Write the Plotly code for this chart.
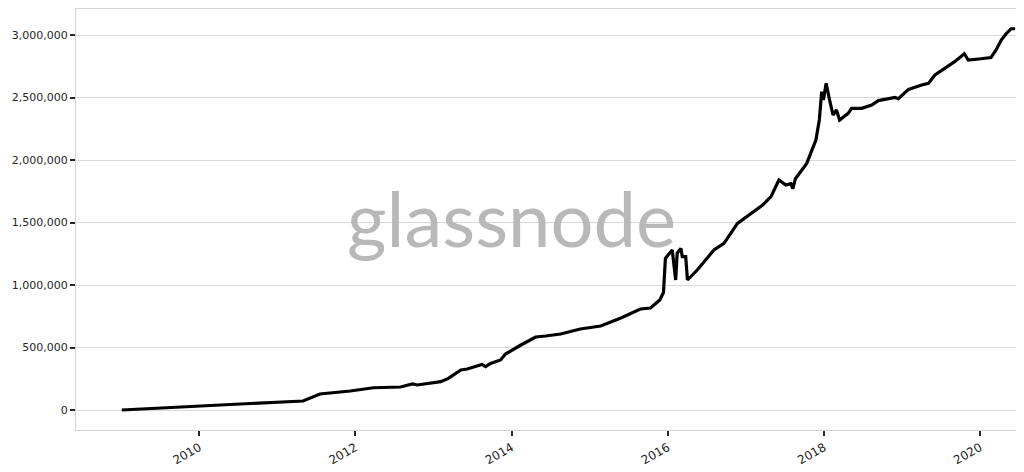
import plotly.graph_objects as go

dates = [
    "2009-01-03", "2009-11-18", "2010-07-12", "2011-05-01", "2011-06-03", "2011-07-19",
    "2011-12-08", "2012-03-25", "2012-07-30", "2012-09-24", "2012-10-16", "2013-02-03",
    "2013-03-11", "2013-05-08", "2013-06-07", "2013-08-15", "2013-09-01", "2013-09-24",
    "2013-11-10", "2013-12-03", "2014-02-13", "2014-04-23", "2014-06-09", "2014-08-18",
    "2014-11-18", "2015-02-21", "2015-05-27", "2015-07-13", "2015-08-26", "2015-10-12",
    "2015-11-25", "2015-12-12", "2015-12-21", "2016-01-22", "2016-02-07", "2016-02-14",
    "2016-03-02", "2016-03-09", "2016-03-25", "2016-04-02", "2016-05-18", "2016-08-04",
    "2016-09-20", "2016-11-22", "2016-12-23", "2017-01-24", "2017-03-20", "2017-04-28",
    "2017-05-30", "2017-06-04", "2017-07-06", "2017-07-30", "2017-08-08", "2017-08-20",
    "2017-10-12", "2017-11-24", "2017-12-10", "2017-12-21", "2017-12-29", "2018-01-11",
    "2018-01-27", "2018-02-12", "2018-02-28", "2018-03-15", "2018-04-24", "2018-05-10",
    "2018-06-26", "2018-08-12", "2018-09-12", "2018-11-29", "2018-12-15", "2019-01-31",
    "2019-04-03", "2019-05-04", "2019-06-04", "2019-07-20", "2019-09-04", "2019-10-19",
    "2019-11-07", "2020-01-05", "2020-02-21", "2020-03-16", "2020-04-09", "2020-05-02",
    "2020-05-25", "2020-06-13",
]
values = [
    0, 30000, 48000, 72000, 93000, 128000,
    152000, 178000, 184000, 208000, 200000, 227000,
    253000, 320000, 328000, 365000, 347000, 373000,
    400000, 448000, 520000, 584000, 592000, 608000,
    648000, 672000, 736000, 776000, 808000, 816000,
    880000, 940000, 1213000, 1280000, 1040000, 1253000,
    1293000, 1227000, 1227000, 1040000, 1120000, 1280000,
    1333000, 1493000, 1533000, 1573000, 1640000, 1707000,
    1827000, 1840000, 1800000, 1810000, 1770000, 1850000,
    1973000, 2160000, 2320000, 2547000, 2480000, 2613000,
    2480000, 2360000, 2400000, 2320000, 2373000, 2413000,
    2413000, 2440000, 2475000, 2500000, 2490000, 2565000,
    2600000, 2613000, 2680000, 2733000, 2787000, 2850000,
    2800000, 2810000, 2820000, 2880000, 2960000, 3010000,
    3050000, 3050000,
]

y_ticks = [0, 500000, 1000000, 1500000, 2000000, 2500000, 3000000]
x_ticks = ["2010-01-01", "2012-01-01", "2014-01-01", "2016-01-01", "2018-01-01", "2020-01-01"]
x_tick_labels = ["2010", "2012", "2014", "2016", "2018", "2020"]

fig = go.Figure()
fig.add_trace(go.Scatter(
    x=dates, y=values, mode="lines",
    line=dict(color="black", width=3.2),
    showlegend=False, hoverinfo="x+y",
))

fig.add_annotation(
    text="glassnode", xref="paper", yref="paper", x=0.4633, y=0.505,
    xanchor="center", yanchor="middle", showarrow=False,
    font=dict(family="Lato", size=76, color="#b8b8b8"),
)

y_tick_font = dict(family="DejaVu Sans", size=11, color="#262626")
x_tick_font = dict(family="DejaVu Sans", size=12, color="#262626")

fig.update_layout(
    width=1024, height=472,
    margin=dict(l=68, r=16, t=1, b=50, autoexpand=False),
    paper_bgcolor="white", plot_bgcolor="white",
    font=dict(family="DejaVu Sans", size=11, color="#262626"),
    showlegend=False,
)
fig.update_xaxes(
    range=["2008-06-03", "2020-06-17"], automargin=False,
    tickvals=x_ticks, ticktext=x_tick_labels, tickangle=-30, tickfont=x_tick_font,
    showgrid=False, zeroline=False,
    showline=True, mirror=True, linecolor="#d4d4d4", linewidth=1,
    ticks="outside", ticklen=5, tickwidth=1.5, tickcolor="#262626",
)
fig.update_yaxes(
    range=[-160000, 3208000], automargin=False,
    tickvals=y_ticks, tickformat=",d", tickfont=y_tick_font,
    showgrid=True, gridcolor="#d9d9d9", gridwidth=1, zeroline=False,
    showline=True, mirror=True, linecolor="#d4d4d4", linewidth=1,
    ticks="outside", ticklen=5, tickwidth=1.5, tickcolor="#262626",
)

fig.write_html("out.html")
